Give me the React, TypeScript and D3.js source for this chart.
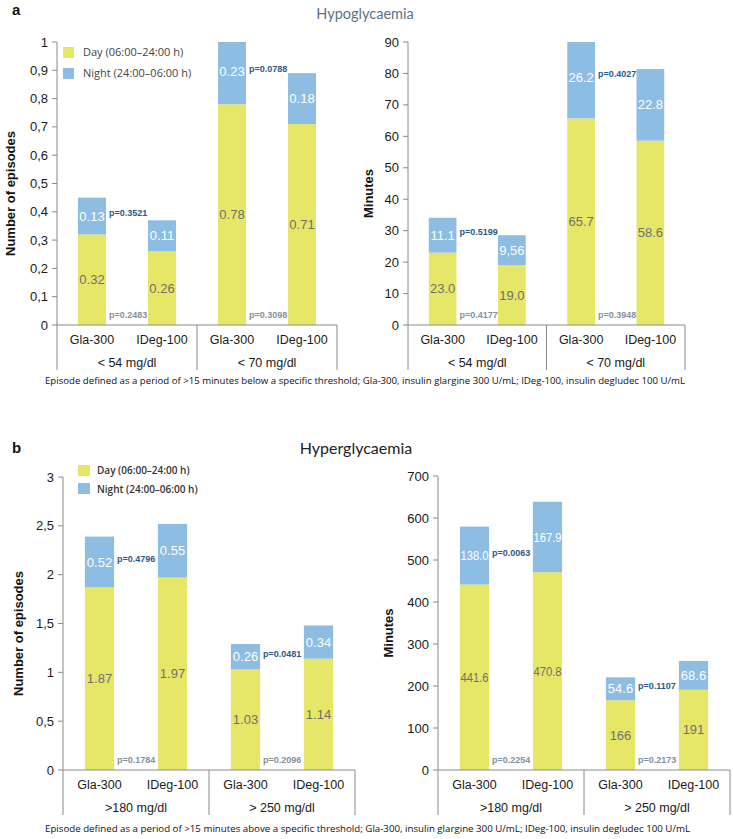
import React from "react";
import * as d3 from "d3";

// ---------- DATA ----------
const treatments = ["Gla-300", "IDeg-100"];

const hypoGroups = ["< 54 mg/dl", "< 70 mg/dl"];
const hyperGroups = [">180 mg/dl", "> 250 mg/dl"];

// Hypoglycaemia – number of episodes
const hypoEpDay = [0.32, 0.26, 0.78, 0.71];
const hypoEpNight = [0.13, 0.11, 0.23, 0.18];
const hypoEpDayLbl = ["0.32", "0.26", "0.78", "0.71"];
const hypoEpNightLbl = ["0.13", "0.11", "0.23", "0.18"];
const hypoEpPNight = ["p=0.3521", "p=0.0788"];
const hypoEpPDay = ["p=0.2483", "p=0.3098"];

// Hypoglycaemia – minutes
const hypoMinDay = [23.0, 19.0, 65.7, 58.6];
const hypoMinNight = [11.1, 9.56, 26.2, 22.8];
const hypoMinDayLbl = ["23.0", "19.0", "65.7", "58.6"];
const hypoMinNightLbl = ["11.1", "9,56", "26.2", "22.8"];
const hypoMinPNight = ["p=0.5199", "p=0.4027"];
const hypoMinPDay = ["p=0.4177", "p=0.3948"];

// Hyperglycaemia – number of episodes
const hyperEpDay = [1.87, 1.97, 1.03, 1.14];
const hyperEpNight = [0.52, 0.55, 0.26, 0.34];
const hyperEpDayLbl = ["1.87", "1.97", "1.03", "1.14"];
const hyperEpNightLbl = ["0.52", "0.55", "0.26", "0.34"];
const hyperEpPNight = ["p=0.4796", "p=0.0481"];
const hyperEpPDay = ["p=0.1784", "p=0.2096"];

// Hyperglycaemia – minutes
const hyperMinDay = [441.6, 470.8, 166, 191];
const hyperMinNight = [138.0, 167.9, 54.6, 68.6];
const hyperMinDayLbl = ["441.6", "470.8", "166", "191"];
const hyperMinNightLbl = ["138.0", "167.9", "54.6", "68.6"];
const hyperMinPNight = ["p=0.0063", "p=0.1107"];
const hyperMinPDay = ["p=0.2254", "p=0.2173"];

const legendLabels = ["Day (06:00\u201324:00 h)", "Night (24:00\u201306:00 h)"];
const footHypo =
  "Episode defined as a period of >15 minutes below a specific threshold; Gla-300, insulin glargine 300 U/mL; IDeg-100, insulin degludec 100 U/mL";
const footHyper =
  "Episode defined as a period of >15 minutes above a specific threshold; Gla-300, insulin glargine 300 U/mL; IDeg-100, insulin degludec 100 U/mL";

// ---------- STYLE ----------
const YELLOW = "#e7e767";
const BLUE = "#8dbde3";
const AXIS = "#8a8a8a";
const SANS = "'Liberation Sans', Arial, sans-serif";
const PNIGHT = "#2b5a88";
const PDAY = "#8391a0";

type PanelProps = {
  x0: number; x1: number; yZero: number; yMax: number;
  max: number; step: number; decimals: number;
  groups: string[];
  day: number[]; night: number[];
  dayLbl: string[]; nightLbl: string[];
  pNight: string[]; pDay: string[];
  yTitle: string; yTitleX: number;
};

// approximate Arial 13px width of a numeric label
const estWidth = (s: string) =>
  s.split("").reduce((a, ch) => a + (ch === "." || ch === "," ? 3.6 : 7.23), 0);

function BarLabel({ x, y, text, bw, fill }: { x: number; y: number; text: string; bw: number; fill: string }) {
  const w = estWidth(text);
  const fit = w > bw - 1;
  return (
    <text x={x} y={y} dy="0.35em" textAnchor="middle" fontFamily={SANS} fontSize={13} fill={fill}
      {...(fit ? { textLength: bw - 1, lengthAdjust: "spacingAndGlyphs" } : {})}>
      {text}
    </text>
  );
}

function Panel(p: PanelProps) {
  const cats = [0, 1, 2, 3].map((i) => `${i}`);
  const x = d3.scaleBand<string>().domain(cats).range([p.x0, p.x1]).paddingInner(0.6).paddingOuter(0.3);
  const y = d3.scaleLinear().domain([0, p.max]).range([p.yZero, p.yMax]).clamp(true);
  const ticks = d3.range(0, p.max + p.step / 2, p.step);
  const fmt = (v: number) => {
    const s = v === 0 ? "0" : d3.format(`.${p.decimals}f`)(v);
    return (p.decimals > 0 ? s.replace(/\.?0+$/, "") || "0" : s).replace(".", ",");
  };
  const bw = x.bandwidth();
  const groupEdges = [p.x0, (p.x0 + p.x1) / 2, p.x1];
  return (
    <g>
      {/* y axis */}
      <line x1={p.x0} x2={p.x0} y1={p.yMax} y2={p.yZero + 45} stroke={AXIS} strokeWidth={1} />
      {ticks.map((t, i) => (
        <g key={i}>
          <line x1={p.x0 - 5} x2={p.x0} y1={y(t)} y2={y(t)} stroke={AXIS} />
          <text x={p.x0 - 9} y={y(t)} dy="0.35em" textAnchor="end" fontFamily={SANS} fontSize={13} fill="#1a1a1a">
            {fmt(t)}
          </text>
        </g>
      ))}
      <text
        transform={`translate(${p.yTitleX},${(p.yZero + p.yMax) / 2 + 10}) rotate(-90)`}
        textAnchor="middle" dy="0.35em" fontFamily={SANS} fontSize={13} fontWeight="bold" fill="#111"
      >
        {p.yTitle}
      </text>
      {/* bars */}
      {cats.map((c, i) => {
        const bx = x(c)!;
        const d = p.day[i];
        const n = p.night[i];
        return (
          <g key={c}>
            <rect x={bx} width={bw} y={y(d)} height={y(0) - y(d)} fill={YELLOW} />
            <rect x={bx} width={bw} y={y(d + n)} height={y(d) - y(d + n)} fill={BLUE} />
            <BarLabel x={bx + bw / 2} y={y(d / 2)} text={p.dayLbl[i]} bw={bw} fill="#6f6f6f" />
            <BarLabel x={bx + bw / 2} y={y(d + n / 2)} text={p.nightLbl[i]} bw={bw} fill="#ffffff" />
            <text x={bx + bw / 2} y={p.yZero + 15} dy="0.35em" textAnchor="middle" fontFamily={SANS} fontSize={12.5} fill="#1a1a1a">
              {treatments[i % 2]}
            </text>
          </g>
        );
      })}
      {/* p values */}
      {p.groups.map((g, gi) => {
        const gla = gi * 2;
        const gx = x(cats[gla])! + bw + 3;
        const ny = y(p.day[gla] + p.night[gla] / 2) - 3;
        return (
          <g key={g}>
            <text x={gx} y={ny} dy="0.35em" fontFamily={SANS} fontSize={9} fontWeight="bold" fill={PNIGHT}>
              {p.pNight[gi]}
            </text>
            <text x={gx} y={p.yZero - 10} dy="0.35em" fontFamily={SANS} fontSize={9} fontWeight="bold" fill={PDAY}>
              {p.pDay[gi]}
            </text>
            <text x={(groupEdges[gi] + groupEdges[gi + 1]) / 2} y={p.yZero + 38} dy="0.35em" textAnchor="middle" fontFamily={SANS} fontSize={12.5} fill="#1a1a1a">
              {g}
            </text>
          </g>
        );
      })}
      {/* category axis */}
      <line x1={p.x0} x2={p.x1} y1={p.yZero} y2={p.yZero} stroke={AXIS} />
      {groupEdges.slice(1).map((gx, i) => (
        <line key={i} x1={gx} x2={gx} y1={p.yZero} y2={p.yZero + 45} stroke={AXIS} />
      ))}
    </g>
  );
}

export default function App() {
  return (
    <svg width={733} height={839} style={{ position: "absolute", left: 0, top: 0, background: "#fff" }}>
      <rect width={733} height={839} fill="#fff" />
      {/* Panel a */}
      <text x={12} y={15} fontFamily={SANS} fontSize={15} fontWeight="bold" fill="#111">a</text>
      <text x={365} y={19} textAnchor="middle" fontFamily="Lato, sans-serif" fontSize={14.5} fill="#5e7283">Hypoglycaemia</text>
      <Panel x0={57} x1={337} yZero={325} yMax={42} max={1} step={0.1} decimals={1}
        groups={hypoGroups} day={hypoEpDay} night={hypoEpNight} dayLbl={hypoEpDayLbl} nightLbl={hypoEpNightLbl}
        pNight={hypoEpPNight} pDay={hypoEpPDay} yTitle="Number of episodes" yTitleX={10} />
      <Panel x0={408} x1={685} yZero={325} yMax={42} max={90} step={10} decimals={0}
        groups={hypoGroups} day={hypoMinDay} night={hypoMinNight} dayLbl={hypoMinDayLbl} nightLbl={hypoMinNightLbl}
        pNight={hypoMinPNight} pDay={hypoMinPDay} yTitle="Minutes" yTitleX={368} />
      {/* legend a */}
      <rect x={63} y={47} width={11} height={11} fill={YELLOW} />
      <text x={83} y={52.5} dy="0.35em" fontFamily="'Open Sans', sans-serif" fontSize={11} fill="#444">{legendLabels[0]}</text>
      <rect x={63} y={68} width={11} height={11} fill={BLUE} />
      <text x={83} y={73.5} dy="0.35em" fontFamily="'Open Sans', sans-serif" fontSize={11} fill="#444">{legendLabels[1]}</text>
      <text x={45} y={384} fontFamily="'Open Sans', sans-serif" fontSize={8.5} fill="#111" textLength={640} lengthAdjust="spacingAndGlyphs">{footHypo}</text>

      {/* Panel b */}
      <text x={12} y={453} fontFamily={SANS} fontSize={15} fontWeight="bold" fill="#111">b</text>
      <text x={356} y={454} textAnchor="middle" fontFamily="Lato, sans-serif" fontSize={16} fill="#222">Hyperglycaemia</text>
      <Panel x0={63} x1={355} yZero={770} yMax={477} max={3} step={0.5} decimals={1}
        groups={hyperGroups} day={hyperEpDay} night={hyperEpNight} dayLbl={hyperEpDayLbl} nightLbl={hyperEpNightLbl}
        pNight={hyperEpPNight} pDay={hyperEpPDay} yTitle="Number of episodes" yTitleX={18} />
      <Panel x0={438} x1={730} yZero={770} yMax={476} max={700} step={100} decimals={0}
        groups={hyperGroups} day={hyperMinDay} night={hyperMinNight} dayLbl={hyperMinDayLbl} nightLbl={hyperMinNightLbl}
        pNight={hyperMinPNight} pDay={hyperMinPDay} yTitle="Minutes" yTitleX={388} />
      {/* legend b */}
      <rect x={78} y={465} width={12} height={11} fill={YELLOW} />
      <text x={97} y={470.5} dy="0.35em" fontFamily="'Open Sans', sans-serif" fontSize={10} fontWeight={600} fill="#333">{legendLabels[0]}</text>
      <rect x={78} y={483} width={12} height={11} fill={BLUE} />
      <text x={97} y={489} dy="0.35em" fontFamily="'Open Sans', sans-serif" fontSize={10} fontWeight={600} fill="#333">{legendLabels[1]}</text>
      <text x={45} y={832} fontFamily="'Open Sans', sans-serif" fontSize={8.5} fill="#111" textLength={645} lengthAdjust="spacingAndGlyphs">{footHyper}</text>
    </svg>
  );
}
